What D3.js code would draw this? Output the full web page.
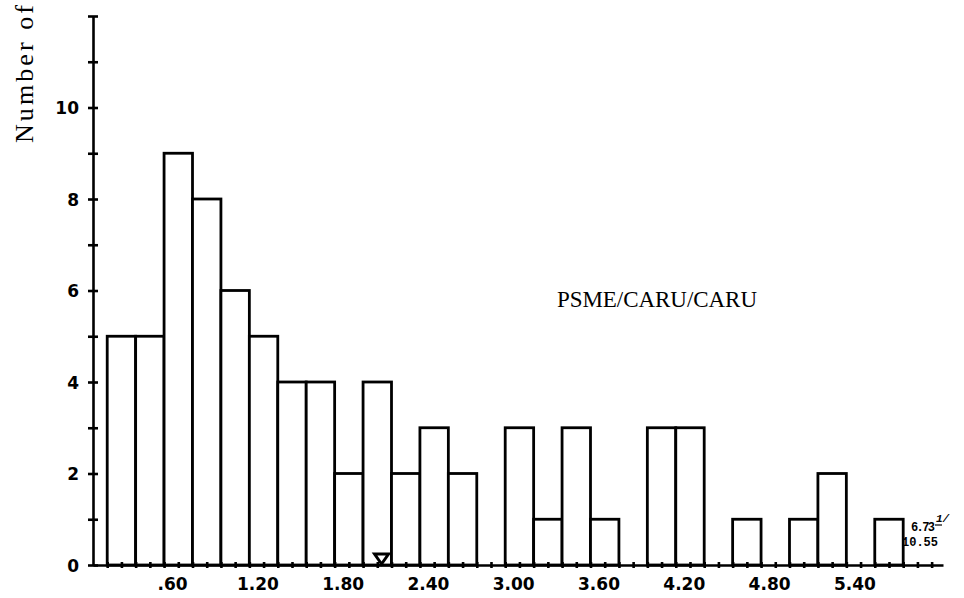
<!DOCTYPE html>
<html>
<head>
<meta charset="utf-8">
<script src="https://cdn.jsdelivr.net/npm/d3@7"></script>
<style>
  body { margin: 0; background: #fff; }
  svg { display: block; }
</style>
</head>
<body>
<svg id="chart" width="964" height="598"></svg>
<script>
// histogram bins (lower edge) and number of stands in each
var binLower = [0.2, 0.4, 0.6, 0.8, 1.0, 1.2, 1.4, 1.6, 1.8, 2.0, 2.2, 2.4, 2.6, 2.8,
                3.0, 3.2, 3.4, 3.6, 3.8, 4.0, 4.2, 4.4, 4.6, 4.8, 5.0, 5.2, 5.4, 5.6];
var counts   = [5, 5, 9, 8, 6, 5, 4, 4, 2, 4, 2, 3, 2, 0,
                3, 1, 3, 1, 0, 3, 3, 0, 1, 0, 1, 2, 0, 1];
var binWidth = 0.2;

var xTickValues = [0.6, 1.2, 1.8, 2.4, 3.0, 3.6, 4.2, 4.8, 5.4];
var xTickLabels = [".60", "1.20", "1.80", "2.40", "3.00", "3.60", "4.20", "4.80", "5.40"];
var yTickValues = [0, 2, 4, 6, 8, 10];

var meanValue = 2.13;          // the little triangle on the axis
var footTop = "6.73", footBottom = "10.55";
var groupLabel = "PSME/CARU/CARU";
var yTitle = "Number of";

var svg = d3.select("#chart");

var x = d3.scaleLinear().domain([0.1, 6.08]).range([93, 943]);
var y = d3.scaleLinear().domain([0, 12]).range([565, 16]);

// bars
svg.append("g")
  .selectAll("rect")
  .data(counts.map(function(c, i) { return {x0: binLower[i], n: c}; }).filter(function(d) { return d.n > 0; }))
  .enter().append("rect")
  .attr("x", function(d) { return x(d.x0); })
  .attr("y", function(d) { return y(d.n); })
  .attr("width", function(d) { return x(d.x0 + binWidth) - x(d.x0); })
  .attr("height", function(d) { return y(0) - y(d.n); })
  .attr("fill", "#fff")
  .attr("stroke", "#000")
  .attr("stroke-width", 2.8);

// y axis, ticks crossing the line
var gy = svg.append("g")
  .attr("transform", "translate(" + x(0.1) + ",0)")
  .call(d3.axisLeft(y).tickValues(d3.range(0, 13)).tickSize(5).tickSizeOuter(0)
    .tickFormat(function(d) { return yTickValues.indexOf(d) >= 0 ? d : ""; }));
gy.select(".domain").attr("stroke-width", 2.6);
gy.selectAll(".tick line").attr("x1", -5).attr("x2", 5).attr("stroke-width", 2.6);
gy.selectAll(".tick text")
  .attr("x", -14)
  .attr("dy", "0.38em")
  .style("font-family", "DejaVu Sans")
  .style("font-weight", "bold")
  .style("font-size", "17px")
  .attr("fill", "#000");

// x axis: small crossing ticks every 0.1
var gx = svg.append("g")
  .attr("transform", "translate(0," + y(0) + ")")
  .call(d3.axisBottom(x).tickValues(d3.range(0.2, 6.05, 0.1)).tickSize(3).tickSizeOuter(0).tickFormat(""));
gx.select(".domain").attr("stroke-width", 2.6);
gx.selectAll(".tick line").attr("y1", -3).attr("y2", 3).attr("stroke-width", 2.6);

// x labels
var gxl = svg.append("g")
  .attr("transform", "translate(0," + y(0) + ")")
  .call(d3.axisBottom(x).tickValues(xTickValues).tickSize(0)
    .tickFormat(function(d, i) { return xTickLabels[i]; }));
gxl.select(".domain").remove();
gxl.selectAll(".tick text")
  .attr("x", 8)
  .attr("y", 13)
  .attr("dy", "0.71em")
  .style("font-family", "DejaVu Sans")
  .style("font-weight", "bold")
  .style("font-size", "17px")
  .attr("fill", "#000");

// mean marker
var mx = x(meanValue), my = y(0);
svg.append("path")
  .attr("d", "M" + (mx - 7) + "," + (my - 11) + "L" + (mx + 7) + "," + (my - 11) + "L" + mx + "," + (my - 1) + "Z")
  .attr("fill", "none")
  .attr("stroke", "#000")
  .attr("stroke-width", 3);

// y title
svg.append("text")
  .attr("transform", "translate(33,143) rotate(-90)")
  .style("font-family", "Liberation Serif")
  .style("font-size", "26px")
  .attr("textLength", 138)
  .attr("fill", "#000")
  .text(yTitle);

// group label
svg.append("text")
  .attr("x", 557)
  .attr("y", 307)
  .style("font-family", "Liberation Serif")
  .style("font-size", "23px")
  .attr("textLength", 200)
  .attr("fill", "#000")
  .text(groupLabel);

// footnote values
var foot = svg.append("g")
  .style("font-family", "Liberation Mono")
  .style("font-weight", "bold")
  .style("font-size", "12px")
  .attr("fill", "#000");
foot.append("text").attr("x", 911).attr("y", 531).attr("textLength", 24).text(footTop);
foot.append("text").attr("x", 936).attr("y", 522).style("font-size", "11px").style("font-style", "italic").text("1/");
foot.append("line").attr("x1", 935).attr("x2", 942).attr("y1", 525).attr("y2", 525)
  .attr("stroke", "#000").attr("stroke-width", 1.2);
foot.append("text").attr("x", 902).attr("y", 546).attr("textLength", 36).text(footBottom);
</script>
</body>
</html>
